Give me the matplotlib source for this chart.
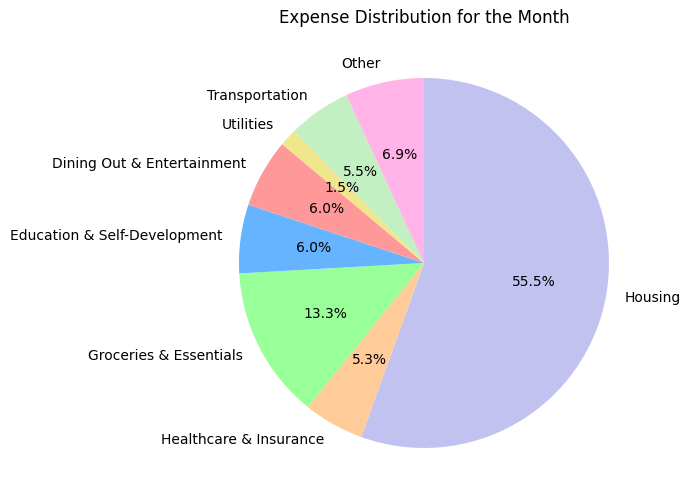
import matplotlib
matplotlib.use("Agg")
import matplotlib.pyplot as plt

categories = ["Housing", "Healthcare & Insurance", "Groceries & Essentials",
              "Education & Self-Development", "Dining Out & Entertainment",
              "Utilities", "Transportation", "Other"]
shares = [55.5, 5.3, 13.3, 6.0, 6.0, 1.5, 5.5, 6.9]
colors = ["#c2c2f0", "#ffcc99", "#99ff99", "#66b3ff", "#ff9999",
          "#f0e68c", "#c2f0c2", "#ffb3e6"]

fig = plt.figure(figsize=(6.9, 5.04), dpi=100)
ax = fig.add_axes([0.2793, 0.01935, 0.6703, 0.9177])
ax.pie(shares, labels=categories, colors=colors, autopct="%1.1f%%",
       startangle=90, counterclock=False)
ax.set_title("Expense Distribution for the Month")
ax.set_xlim(-1.25, 1.25)
ax.set_ylim(-1.25, 1.25)
ax.set_aspect("equal", adjustable="box")
fig.savefig("out.png", dpi=100)
